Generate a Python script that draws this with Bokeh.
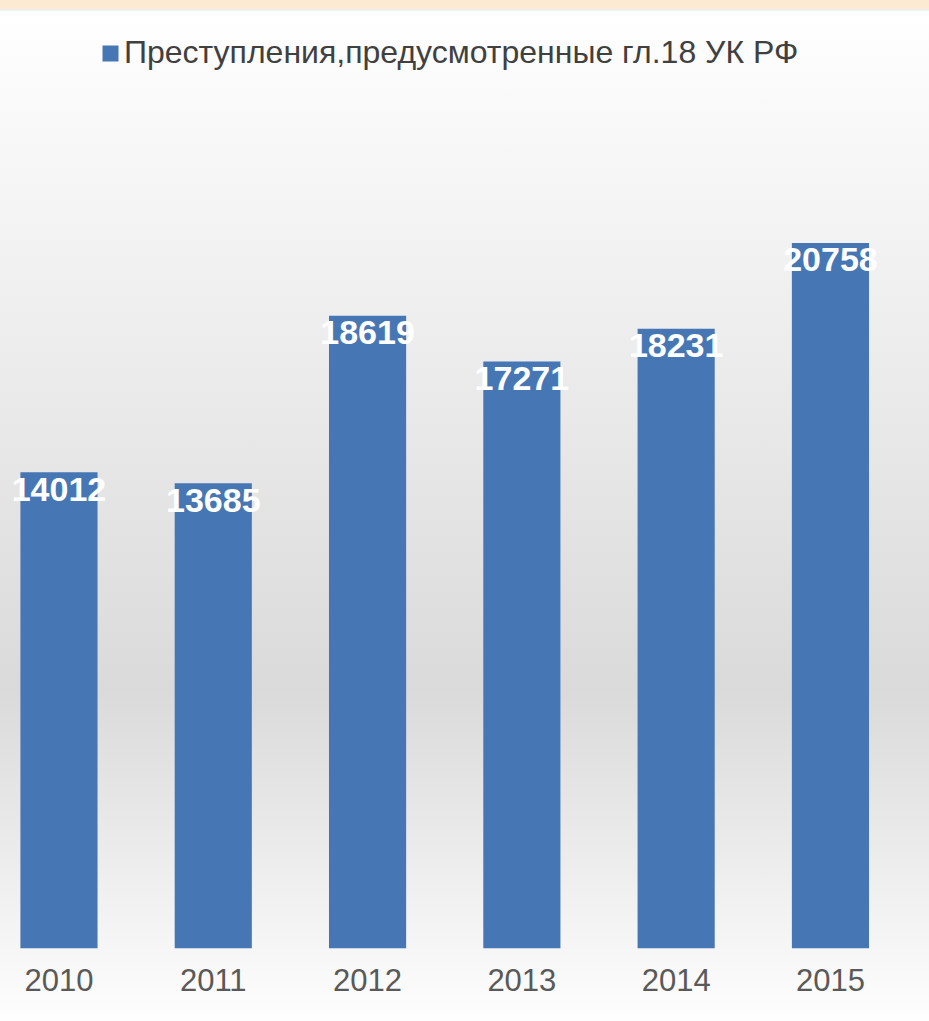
from bokeh.plotting import figure
from bokeh.models import Range1d, FixedTicker, ColumnDataSource
from bokeh.core.properties import value
from bokeh.embed import file_html
from bokeh.resources import INLINE

# ---- data ----
years = [2010, 2011, 2012, 2013, 2014, 2015]
year_labels = ["2010", "2011", "2012", "2013", "2014", "2015"]
counts = [14012, 13685, 18619, 17271, 18231, 20758]
series_name = "Преступления,предусмотренные гл.18 УК РФ"

src = ColumnDataSource(dict(x=years, y=counts, label=[str(v) for v in counts]))

FONT = "'Liberation Sans', Arial, sans-serif"

p = figure(width=929, height=1021, output_backend="svg", toolbar_location=None,
           x_range=Range1d(2009.621, 2015.642), y_range=Range1d(0, 27890),
           y_axis_location=None, min_border_left=0, min_border_right=0,
           min_border_top=0, min_border_bottom=73)

p.background_fill_alpha = 0
p.border_fill_alpha = 0
p.outline_line_color = None
p.styles = {"background-image":
            "linear-gradient(to bottom, #fcebd2 0px, #fcebd2 9px, #e4e7ec 9px, "
            "#ffffff 12px, #fdfdfd 40px, #dadada 690px, #fefefe 1021px)"}
p.grid.visible = False

bar_color = "#4677b4"
p.vbar(x="x", top="y", width=0.5, bottom=0, source=src, fill_color=bar_color,
       line_color=None, legend_label=series_name)

p.text(x="x", y="y", text="label", source=src, text_align="center",
       text_baseline="middle", y_offset=17, text_color="white",
       text_font=value(FONT), text_font_style="bold", text_font_size="34px")

xa = p.xaxis[0]
xa.ticker = FixedTicker(ticks=years)
xa.major_label_overrides = {y: s for y, s in zip(years, year_labels)}
xa.axis_line_color = None
xa.major_tick_line_color = None
xa.minor_tick_line_color = None
xa.major_label_text_font = FONT
xa.major_label_text_font_size = "31px"
xa.major_label_text_color = "#595959"
xa.major_label_standoff = 14

lg = p.legend[0]
lg.location = (100, 877)
lg.orientation = "horizontal"
lg.background_fill_alpha = 0
lg.border_line_color = None
lg.padding = 0
lg.margin = 0
lg.glyph_width = 20
lg.glyph_height = 20
lg.label_standoff = 4
lg.label_text_font = FONT
lg.label_text_font_size = "32px"
lg.label_text_color = "#404040"

open("out.html", "w").write(file_html(p, INLINE))
